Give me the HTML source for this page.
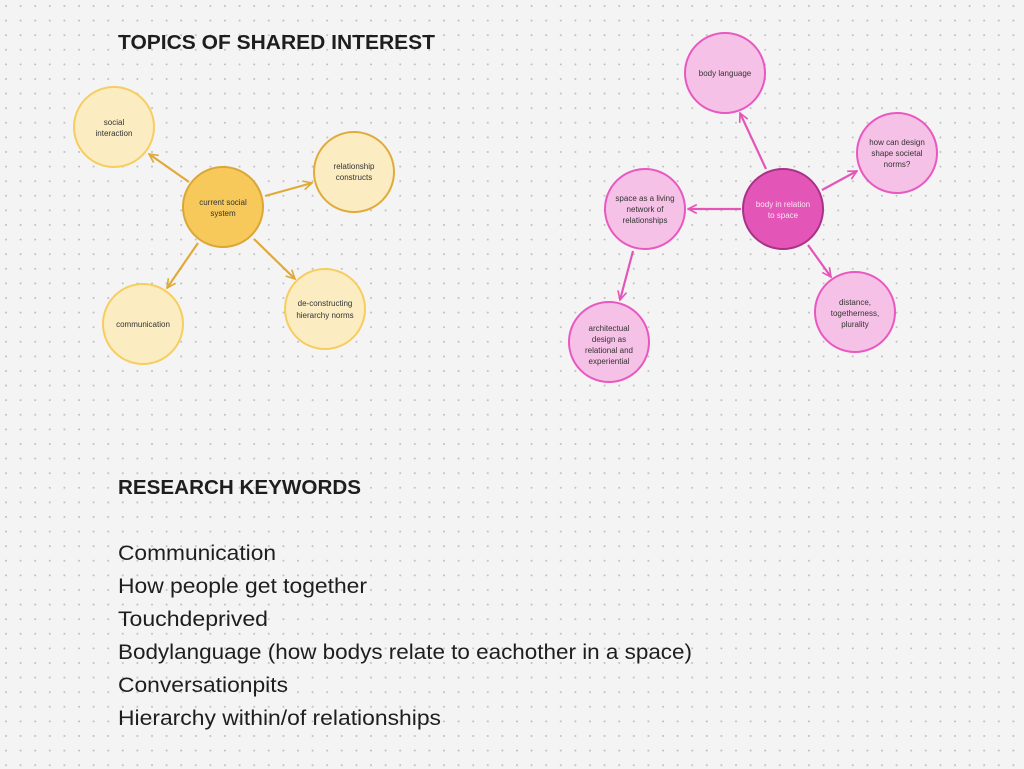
<!DOCTYPE html>
<html><head><meta charset="utf-8"><style>html,body{margin:0;padding:0;background:#f4f4f4}svg{display:block}</style></head><body>
<svg width="1024" height="769" viewBox="0 0 1024 769" xmlns="http://www.w3.org/2000/svg" font-family="Liberation Sans, sans-serif">
<defs>
<pattern id="d" x="5" y="5" width="14.6" height="14.6" patternUnits="userSpaceOnUse"><circle cx="1" cy="1" r="1" fill="#bdbdbd"/></pattern>
<marker id="ay" viewBox="0 0 10 10" refX="9" refY="5" markerWidth="11" markerHeight="11" orient="auto" markerUnits="userSpaceOnUse"><path d="M1,1 L9,5 L1,9" fill="none" stroke="#dfaa3a" stroke-width="1.5"/></marker>
<marker id="ap" viewBox="0 0 10 10" refX="9" refY="5" markerWidth="11" markerHeight="11" orient="auto" markerUnits="userSpaceOnUse"><path d="M1,1 L9,5 L1,9" fill="none" stroke="#e455b8" stroke-width="1.5"/></marker>
</defs>
<rect width="1024" height="769" fill="#f4f4f4"/>
<rect width="1024" height="769" fill="url(#d)"/>

<g stroke="#dfaa3a" stroke-width="2.2" marker-end="url(#ay)">
<line x1="189" y1="182" x2="149" y2="154"/>
<line x1="265" y1="196" x2="312" y2="183"/>
<line x1="198" y1="243" x2="167" y2="288"/>
<line x1="254" y1="239" x2="295" y2="279"/>
</g>
<g stroke="#e455b8" stroke-width="2.2" marker-end="url(#ap)">
<line x1="766" y1="169" x2="740" y2="113"/>
<line x1="822" y1="190" x2="857" y2="171"/>
<line x1="741" y1="209" x2="688" y2="209"/>
<line x1="808" y1="245" x2="831" y2="277"/>
<line x1="633" y1="251" x2="620" y2="300"/>
</g>

<g stroke-width="2">
<circle cx="114" cy="127" r="40" fill="#fbecc2" stroke="#f6cd5f"/>
<circle cx="354" cy="172" r="40" fill="#fbecc2" stroke="#e0ab3a"/>
<circle cx="143" cy="324" r="40" fill="#fbecc2" stroke="#f6cd5f"/>
<circle cx="325" cy="309" r="40" fill="#fbecc2" stroke="#f6cd5f"/>
<circle cx="223" cy="207" r="40" fill="#f7c95b" stroke="#dca636"/>
<circle cx="725" cy="73" r="40" fill="#f6c1e6" stroke="#e858c0"/>
<circle cx="897" cy="153" r="40" fill="#f6c1e6" stroke="#e858c0"/>
<circle cx="645" cy="209" r="40" fill="#f6c1e6" stroke="#e858c0"/>
<circle cx="855" cy="312" r="40" fill="#f6c1e6" stroke="#e858c0"/>
<circle cx="609" cy="342" r="40" fill="#f6c1e6" stroke="#e858c0"/>
<circle cx="783" cy="209" r="40" fill="#e455b8" stroke="#a83288"/>
</g>

<g font-size="8" fill="#333" text-anchor="middle">
<text x="114" y="125">social</text><text x="114" y="136">interaction</text>
<text x="354" y="169">relationship</text><text x="354" y="180">constructs</text>
<text x="143" y="327">communication</text>
<text x="325" y="306">de-constructing</text><text x="325" y="318">hierarchy norms</text>
<text x="223" y="205">current social</text><text x="223" y="216">system</text>
<text x="725" y="76">body language</text>
<text x="897" y="145">how can design</text><text x="897" y="156">shape societal</text><text x="897" y="167">norms?</text>
<text x="645" y="201">space as a living</text><text x="645" y="212">network of</text><text x="645" y="223">relationships</text>
<text x="855" y="305">distance,</text><text x="855" y="316">togetherness,</text><text x="855" y="327">plurality</text>
<text x="609" y="331">architectual</text><text x="609" y="342">design as</text><text x="609" y="353">relational and</text><text x="609" y="364">experiential</text>
<text x="783" y="207" fill="#fbe3f3">body in relation</text><text x="783" y="218" fill="#fbe3f3">to space</text>
</g>

<g fill="#1e1e1e">
<text x="118" y="49" font-size="20" font-weight="bold" textLength="317" lengthAdjust="spacingAndGlyphs">TOPICS OF SHARED INTEREST</text>
<text x="118" y="494" font-size="20" font-weight="bold" textLength="243" lengthAdjust="spacingAndGlyphs">RESEARCH KEYWORDS</text>
<g font-size="21">
<text x="118" y="560" textLength="158" lengthAdjust="spacingAndGlyphs">Communication</text>
<text x="118" y="593" textLength="249" lengthAdjust="spacingAndGlyphs">How people get together</text>
<text x="118" y="626" textLength="150" lengthAdjust="spacingAndGlyphs">Touchdeprived</text>
<text x="118" y="659" textLength="574" lengthAdjust="spacingAndGlyphs">Bodylanguage (how bodys relate to eachother in a space)</text>
<text x="118" y="692" textLength="170" lengthAdjust="spacingAndGlyphs">Conversationpits</text>
<text x="118" y="725" textLength="323" lengthAdjust="spacingAndGlyphs">Hierarchy within/of relationships</text>
</g>
</g>
</svg>
</body></html>
